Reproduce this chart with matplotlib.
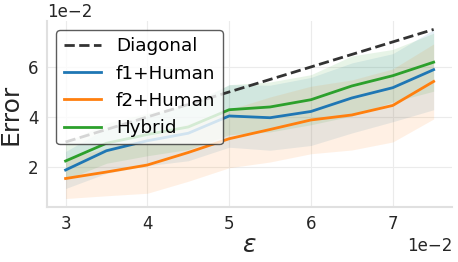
import numpy as np
import matplotlib
matplotlib.use("Agg")
from matplotlib import pyplot as plt

# values, in units of 1e-2
eps = [3.0, 3.5, 4.0, 4.5, 5.0, 5.5, 6.0, 6.5, 7.0, 7.5]
f1_mean = [1.88, 2.65, 3.05, 3.35, 4.04, 3.97, 4.22, 4.76, 5.17, 5.89]
f1_std = [0.74, 0.90, 1.00, 1.10, 1.25, 1.30, 1.36, 1.40, 1.36, 1.60]
f2_mean = [1.54, 1.80, 2.08, 2.58, 3.13, 3.50, 3.88, 4.08, 4.46, 5.42]
f2_std = [0.80, 0.95, 1.13, 1.15, 1.16, 1.30, 1.35, 1.40, 1.46, 1.50]
hy_mean = [2.24, 2.95, 3.30, 3.60, 4.29, 4.40, 4.69, 5.24, 5.65, 6.19]
hy_std = [0.75, 0.80, 0.85, 0.90, 1.00, 1.00, 1.00, 1.20, 1.05, 1.16]

series = [("f1+Human", f1_mean, f1_std, "#1f77b4"),
          ("f2+Human", f2_mean, f2_std, "#ff7f0e"),
          ("Hybrid", hy_mean, hy_std, "#2ca02c")]

fig = plt.figure(figsize=(4.58, 2.62), dpi=100)
ax = fig.add_axes([0.103, 0.21, 0.884, 0.71])

x = np.array(eps) * 1e-2
ax.plot(x, x, "--", color="#333333", lw=2, label="Diagonal")
for name, m, s, c in series:
    m = np.array(m) * 1e-2
    s = np.array(s) * 1e-2
    ax.plot(x, m, color=c, lw=2, label=name)
    ax.fill_between(x, m - s, m + s, color=c, alpha=0.11, lw=0)

ax.ticklabel_format(style="sci", axis="both", scilimits=(0, 0))
ax.xaxis.get_offset_text().set_fontsize(12)
ax.yaxis.get_offset_text().set_fontsize(12)
ax.xaxis.get_offset_text().set_color("#262626")
ax.yaxis.get_offset_text().set_color("#262626")
ax.set_xticks([0.03, 0.04, 0.05, 0.06, 0.07])
ax.set_yticks([0.02, 0.04, 0.06])
ax.tick_params(length=0, labelsize=12, labelcolor="#262626", pad=6)
ax.grid(True, color="#ebebeb", lw=0.8)
ax.set_axisbelow(True)
for sp in ["top", "right"]:
    ax.spines[sp].set_visible(False)
for sp in ["left", "bottom"]:
    ax.spines[sp].set_color("#e0e0e0")
    ax.spines[sp].set_linewidth(1.5)

ax.set_xlabel(r"$\varepsilon$", fontsize=18, color="#262626", labelpad=0)
ax.set_ylabel("Error", fontsize=18, color="#262626")
leg = ax.legend(loc="upper left", fontsize=13.2, frameon=True, fancybox=True,
                handlelength=2.05, borderpad=0.4, labelspacing=0.5)
leg.get_frame().set_edgecolor("#333333")
leg.get_frame().set_alpha(0.8)

fig.savefig("out.png", dpi=100)
